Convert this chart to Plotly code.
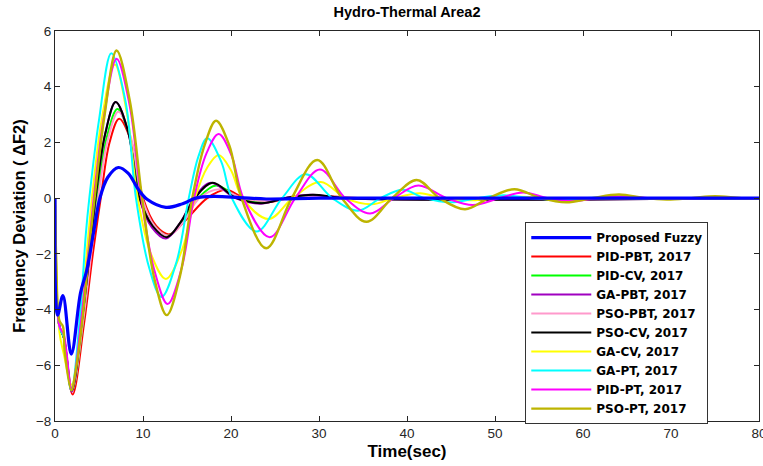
import plotly.graph_objects as go

# ---------------- data ----------------
names = ["Proposed Fuzzy", "PID-PBT, 2017", "PID-CV, 2017", "GA-PBT, 2017",
         "PSO-PBT, 2017", "PSO-CV, 2017", "GA-CV, 2017", "GA-PT, 2017",
         "PID-PT, 2017", "PSO-PT, 2017"]
colors = ["#0000FF", "#FF0000", "#00FF00", "#A000C0", "#FF99CC",
          "#000000", "#FFFF00", "#00FFFF", "#FF00FF", "#BDB400"]
widths = [3.2, 2, 2, 2, 2, 2, 2, 2, 2, 2.4]

t_fuzzy = [0, 0.3, 0.9, 1.85, 2.9, 3.6, 4.4, 5.1, 6.0, 7.2, 8.3, 9.5, 10.5, 12.6, 14.5, 16.0, 18.0, 21, 24, 30, 40, 80]
y_fuzzy = [0, -4.2, -3.5, -5.6, -3.4, -2.6, -1.2, 0, 0.75, 1.1, 0.9, 0.3, -0.05, -0.33, -0.2, 0, 0.06, 0.02, -0.03, 0, 0, 0]

t_pid_pbt = [0, 0.5, 1.0, 2.0, 3.3, 4.3, 5.2, 6.2, 7.3, 8.7, 10.0, 11.5, 13.0, 14.8, 17.3, 19.4, 21.5, 24, 26.5, 30, 35, 80]
y_pid_pbt = [0, -4.6, -5.0, -7.05, -4.5, -2.0, 0, 2.0, 2.85, 2.0, 0, -1.0, -1.3, -0.8, 0, 0.3, 0, -0.15, 0, 0.08, 0, 0]

t_pid_cv = [0, 0.5, 1.0, 1.95, 3.2, 4.1, 4.8, 5.9, 7.1, 8.5, 9.8, 11.3, 12.9, 14.5, 16.3, 18.3, 21, 23.5, 26, 29, 34, 80]
y_pid_cv = [0, -4.6, -5.0, -6.9, -4.4, -1.9, 0, 2.2, 3.2, 2.2, 0, -1.0, -1.35, -0.8, 0, 0.45, 0, -0.15, 0, 0.08, 0, 0]

t_ga_pbt = [0, 0.5, 1.0, 1.9, 3.1, 4.0, 4.6, 5.7, 6.9, 8.3, 9.6, 11.0, 12.6, 14.2, 15.8, 17.7, 20.5, 23.3, 26, 29, 33, 80]
y_ga_pbt = [0, -4.6, -5.0, -6.95, -4.3, -1.8, 0, 2.3, 3.45, 2.4, 0, -1.05, -1.45, -0.9, 0, 0.55, 0, -0.2, 0, 0.12, 0, 0]

t_pso_pbt = [0, 0.5, 1.0, 1.95, 3.2, 4.2, 4.9, 6.0, 7.2, 8.6, 9.9, 11.3, 12.9, 14.6, 16.4, 18.7, 21.3, 24, 27, 30, 35, 80]
y_pso_pbt = [0, -4.6, -5.0, -6.9, -4.4, -1.8, 0, 2.1, 3.1, 2.2, 0, -1.0, -1.35, -0.85, 0, 0.32, 0, -0.1, 0, 0.06, 0, 0]

t_pso_cv = [0, 0.5, 1.0, 1.9, 3.1, 4.0, 4.6, 5.7, 6.9, 8.3, 9.6, 11.1, 12.7, 14.3, 15.9, 17.9, 20.6, 23.5, 26.2, 29.3, 33, 80]
y_pso_cv = [0, -4.6, -5.0, -6.9, -4.3, -1.8, 0, 2.3, 3.45, 2.4, 0, -1.0, -1.4, -0.85, 0, 0.55, 0, -0.18, 0, 0.12, 0, 0]

t_ga_cv = [0, 0.5, 1.0, 1.9, 3.0, 3.8, 4.2, 5.3, 6.8, 8.2, 9.4, 10.9, 12.6, 14.5, 15.9, 17.3, 18.6, 20.0, 21.3, 24.3, 27, 30.2, 33, 36, 38.5, 41.5, 44, 47, 50, 53, 56, 80]
y_ga_cv = [0, -4.8, -5.6, -6.7, -4.0, -1.3, 0, 2.8, 4.8, 3.0, 0, -2.0, -2.9, -1.8, 0, 1.1, 1.55, 1.0, 0, -0.75, 0, 0.58, 0, -0.22, 0, 0.18, 0, -0.08, 0, 0.05, 0, 0]

t_ga_pt = [0, 0.5, 1.0, 1.85, 2.9, 3.5, 3.9, 5.0, 6.4, 8.0, 9.2, 10.7, 12.1, 13.8, 15.2, 16.3, 17.3, 18.9, 20.1, 22.9, 25.8, 28.5, 31.5, 34.4, 37, 39.5, 42, 45, 48, 51, 54, 57, 60, 63, 66, 80]
y_ga_pt = [0, -4.6, -5.0, -6.9, -4.0, -1.3, 0, 2.8, 5.2, 3.5, 0, -2.5, -3.55, -2.3, 0, 1.5, 2.15, 1.3, 0, -1.2, 0, 0.86, 0, -0.45, 0, 0.3, 0, -0.15, 0, 0.1, 0, -0.05, 0, 0.03, 0, 0]

t_pid_pt = [0, 0.5, 1.0, 1.9, 3.0, 3.9, 4.4, 5.5, 7.0, 8.5, 9.8, 11.3, 12.8, 14.4, 15.8, 17.2, 18.6, 20.1, 21.4, 24.4, 27.3, 30.1, 33, 35.8, 38.5, 41.3, 44.5, 47.5, 50.5, 53.2, 56, 58.8, 61.5, 64.5, 67.5, 70, 73, 80]
y_pid_pt = [0, -4.6, -4.9, -6.85, -4.3, -1.6, 0, 2.8, 5.0, 3.3, 0, -2.6, -3.8, -2.5, 0, 1.6, 2.3, 1.5, 0, -1.4, 0, 1.03, 0, -0.55, 0, 0.45, 0, -0.25, 0, 0.2, 0, -0.1, 0, 0.07, 0, -0.03, 0, 0]

t_pso_pt = [0, 0.15, 0.5, 0.9, 1.1, 1.86, 2.4, 3.2, 4.1, 4.5, 5.6, 7.0, 8.5, 9.9, 11.3, 12.7, 14.2, 15.6, 17.0, 18.3, 19.8, 21.2, 24.0, 26.9, 29.8, 32.6, 35.4, 38.3, 41.1, 43.7, 46.6, 49.3, 52.2, 55.2, 58.1, 61, 64.1, 67, 69.5, 72.3, 75, 78, 80]
y_pso_pt = [0, -2.3, -4.4, -4.6, -5.5, -6.9, -6.1, -4.1, -1.15, 0, 2.9, 5.3, 3.5, 0, -2.9, -4.2, -2.8, 0, 1.9, 2.78, 1.9, 0, -1.8, 0, 1.37, 0, -0.85, 0, 0.65, 0, -0.4, 0, 0.32, 0, -0.15, 0, 0.13, 0, -0.05, 0, 0.07, 0, 0]

series_t = [t_fuzzy, t_pid_pbt, t_pid_cv, t_ga_pbt, t_pso_pbt, t_pso_cv, t_ga_cv, t_ga_pt, t_pid_pt, t_pso_pt]
series_y = [y_fuzzy, y_pid_pbt, y_pid_cv, y_ga_pbt, y_pso_pbt, y_pso_cv, y_ga_cv, y_ga_pt, y_pid_pt, y_pso_pt]

x_ticks = [0, 10, 20, 30, 40, 50, 60, 70, 80]
y_ticks = [-8, -6, -4, -2, 0, 2, 4, 6]

FONT = "Liberation Sans, Arial, Helvetica"

# ---------------- figure ----------------
fig = go.Figure()
draw_order = [1, 2, 4, 3, 5, 6, 7, 8, 9, 0]
for i in draw_order:
    fig.add_trace(go.Scatter(
        x=series_t[i], y=series_y[i], mode="lines", name="<b>" + names[i] + "</b>",
        legendrank=i + 1,
        line=dict(color=colors[i], width=widths[i], shape="spline", smoothing=1.0),
    ))

axis_common = dict(
    showline=True, linecolor="#262626", linewidth=1, mirror="allticks",
    ticks="inside", ticklen=5, tickcolor="#262626", showgrid=False, zeroline=False,
    tickfont=dict(family=FONT, size=13.5, color="#262626"),
    ticklabeloverflow="allow", automargin=False,
)

fig.update_layout(
    width=763, height=466,
    margin=dict(l=55, r=4, t=31, b=45),
    paper_bgcolor="white", plot_bgcolor="white",
    title=dict(text="<b>Hydro-Thermal Area2</b>", x=0.5, xref="paper", y=0.974, yref="container",
               xanchor="center", yanchor="middle",
               font=dict(family=FONT, size=14.5, color="#000000")),
    xaxis=dict(range=[0, 80], tickvals=x_ticks, **axis_common,
               title=dict(text="<b>Time(sec)</b>", standoff=4,
                          font=dict(family=FONT, size=17, color="#000000"))),
    yaxis=dict(range=[-8, 6], tickvals=y_ticks, **axis_common,
               title=dict(text="<b>Frequency Deviation ( ΔF2)</b>", standoff=6,
                          font=dict(family=FONT, size=16.5, color="#000000"))),
    legend=dict(x=0.668, y=0.51, xanchor="left", yanchor="top",
                bgcolor="white", bordercolor="#333333", borderwidth=1,
                font=dict(family="DejaVu Sans", size=12, color="#000000"),
                tracegroupgap=0, itemwidth=60),
    showlegend=True,
)

fig.write_html("out.html")
